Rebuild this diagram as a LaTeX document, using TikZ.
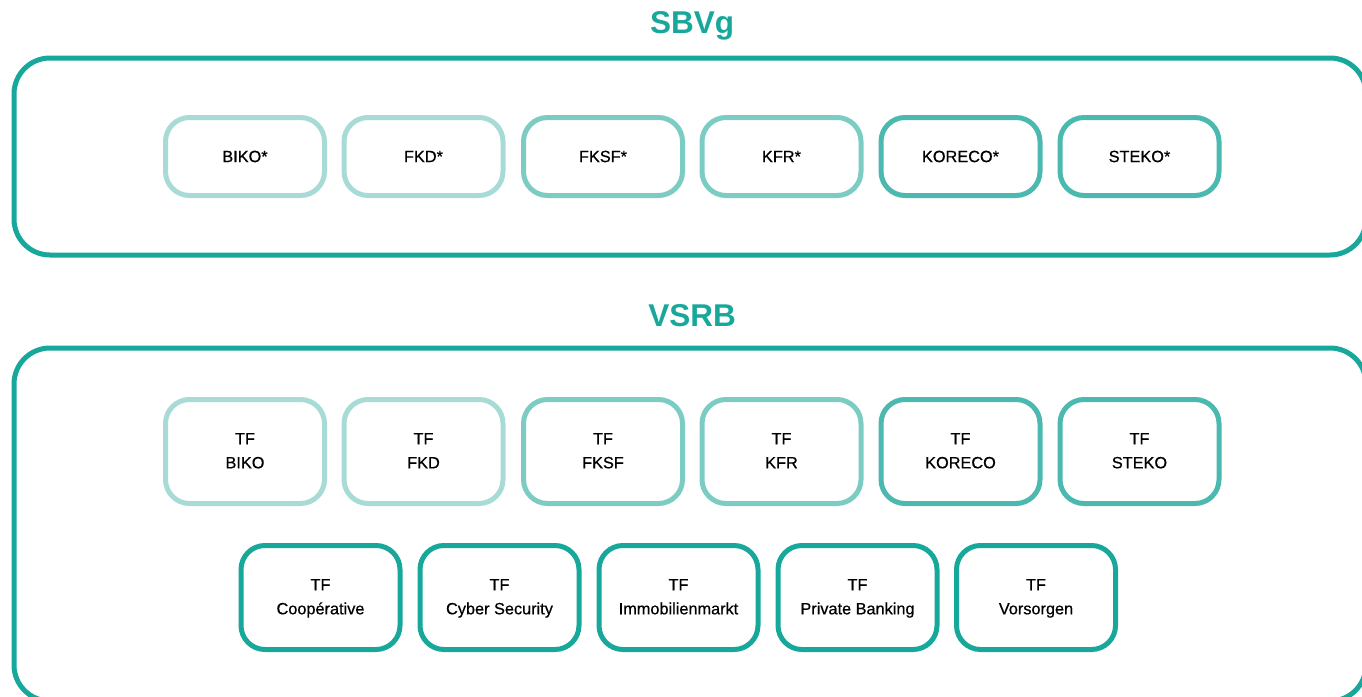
\documentclass[tikz,border=0pt]{standalone}
\usepackage{fontspec}
\setmainfont{Liberation Sans}
\newfontfamily\wgfont[FakeBold=0.6]{Liberation Sans}
\definecolor{teal0}{HTML}{17A89B}
\definecolor{teal1}{HTML}{4BB9AF}
\definecolor{teal2}{HTML}{7DCCC4}
\definecolor{teal3}{HTML}{A8DBD6}
\newcommand\tftext[1]{\strut TF\\\strut #1}
\tikzset{
  group/.style={draw=teal0, line width=5pt, rounded corners=36pt},
  grouptitle/.style={text=teal0, font=\fontsize{31.5}{38}\selectfont\bfseries},
  wg/.style={draw=#1, line width=5pt, rounded corners=24pt, fill=white,
    minimum width=159pt, align=center, inner sep=0pt,
    font=\wgfont\fontsize{16.3}{24}\selectfont},
  wgsmall/.style={wg=#1, minimum height=78pt},
  wgtall/.style={wg=#1, minimum height=104pt},
}
\begin{document}
\begin{tikzpicture}[x=1pt, y=-1pt]
\useasboundingbox (0,0) rectangle (1362,696);
\clip (0,0) rectangle (1362,696);

% SBVg
\node[grouptitle] (sbvg) at (692, 26) {SBVg};
\draw[group] (14, 58) rectangle (1366, 255);
\node[wgsmall=teal3] (biko)   at (245,   156.5) {BIKO*};
\node[wgsmall=teal3] (fkd)    at (423.5, 156.5) {FKD*};
\node[wgsmall=teal2] (fksf)   at (603,   156.5) {FKSF*};
\node[wgsmall=teal2] (kfr)    at (781.5, 156.5) {KFR*};
\node[wgsmall=teal1] (koreco) at (960.5, 156.5) {KORECO*};
\node[wgsmall=teal1] (steko)  at (1139.5,156.5) {STEKO*};

% VSRB
\node[grouptitle] (vsrb) at (692, 316) {VSRB};
\draw[group] (14, 348) rectangle (1366, 701);
\node[wgtall=teal3] (tfbiko)   at (245,   451.5) {\tftext{BIKO}};
\node[wgtall=teal3] (tffkd)    at (423.5, 451.5) {\tftext{FKD}};
\node[wgtall=teal2] (tffksf)   at (603,   451.5) {\tftext{FKSF}};
\node[wgtall=teal2] (tfkfr)    at (781.5, 451.5) {\tftext{KFR}};
\node[wgtall=teal1] (tfkoreco) at (960.5, 451.5) {\tftext{KORECO}};
\node[wgtall=teal1] (tfsteko)  at (1139.5,451.5) {\tftext{STEKO}};

\node[wgtall=teal0] (tfcoop)   at (320.5, 597.5) {\tftext{Coopérative}};
\node[wgtall=teal0] (tfcyber)  at (499.5, 597.5) {\tftext{Cyber Security}};
\node[wgtall=teal0] (tfimmo)   at (678.5, 597.5) {\tftext{Immobilienmarkt}};
\node[wgtall=teal0] (tfpb)     at (857.5, 597.5) {\tftext{Private Banking}};
\node[wgtall=teal0] (tfvors)   at (1036,  597.5) {\tftext{Vorsorgen}};
\end{tikzpicture}
\end{document}
